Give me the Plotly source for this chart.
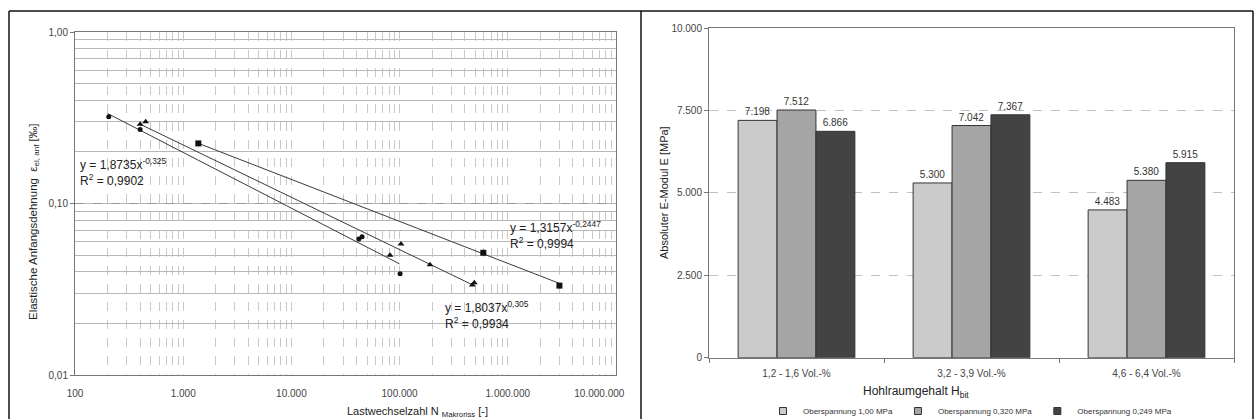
import plotly.graph_objects as go

# ---------------- data: left chart ----------------
s1_n = [205, 400, 42000, 45000, 101000]
s1_eps = [0.32, 0.27, 0.062, 0.064, 0.039]
s2_n = [400, 450, 81500, 103000, 191000, 470000, 490000]
s2_eps = [0.29, 0.30, 0.050, 0.058, 0.044, 0.0335, 0.0345]
s3_n = [1380, 594000, 3000000]
s3_eps = [0.224, 0.0516, 0.0332]

# power-law trend lines y = a * x^b (coefficients as printed in the chart)
trend_a = [1.8735, 1.8037, 1.3157]
trend_b = [-0.325, -0.305, -0.2447]
trend_n_range = [[200, 100000], [400, 474000], [1380, 3000000]]
trend_eq = ["y = 1,8735x<sup>-0,325</sup><br>R<sup>2</sup> = 0,9902",
            "y = 1,8037x<sup>0,305</sup><br>R<sup>2</sup> = 0,9934",
            "y = 1,3157x<sup>-0,2447</sup><br>R<sup>2</sup> = 0,9994"]

x_tickvals = [100, 1000, 10000, 100000, 1000000, 10000000]
x_ticktext = ["100", "1.000", "10.000", "100.000", "1.000.000",
              "10.000.000" + "\u00a0" * 12]
y_tickvals = [0.01, 0.1, 1]
y_ticktext = ["0,01", "0,10", "1,00"]

# ---------------- data: right chart ----------------
categories = ["1,2 - 1,6 Vol.-%", "3,2 - 3,9 Vol.-%", "4,6 - 6,4 Vol.-%"]
series_names = ["Oberspannung 1,00 MPa", "Oberspannung 0,320 MPa", "Oberspannung 0,249 MPa"]
e_1000 = [7198, 5300, 4483]
e_0320 = [7512, 7042, 5380]
e_0249 = [6866, 7367, 5915]
bar_colors = ["#cbcbcb", "#a5a5a5", "#434343"]
bar_tickvals = [0, 2500, 5000, 7500, 10000]
bar_ticktext = ["0", "2.500", "5.000", "7.500", "10.000"]

W, H = 1254, 419
FONT = "Liberation Sans, Arial, sans-serif"

def px(x):
    return x / W

def py(y):
    return 1 - y / H

fig = go.Figure()

# left chart traces
line_col = "#3a3a3a"
for a, b, rng in zip(trend_a, trend_b, trend_n_range):
    fig.add_trace(go.Scatter(
        x=rng, y=[a * n ** b for n in rng], mode="lines",
        line=dict(color=line_col, width=1), showlegend=False,
        xaxis="x", yaxis="y", hoverinfo="skip"))

fig.add_trace(go.Scatter(x=s1_n, y=s1_eps, mode="markers",
                         marker=dict(symbol="circle", size=5, color="#111"),
                         showlegend=False, xaxis="x", yaxis="y"))
fig.add_trace(go.Scatter(x=s2_n, y=s2_eps, mode="markers",
                         marker=dict(symbol="triangle-up", size=6, color="#111"),
                         showlegend=False, xaxis="x", yaxis="y"))
fig.add_trace(go.Scatter(x=s3_n, y=s3_eps, mode="markers",
                         marker=dict(symbol="square", size=6, color="#111"),
                         showlegend=False, xaxis="x", yaxis="y"))

# right chart traces
for name, vals, col in zip(series_names, [e_1000, e_0320, e_0249], bar_colors):
    fig.add_trace(go.Bar(
        x=categories, y=vals, name=name, xaxis="x2", yaxis="y2",
        marker=dict(color=col, line=dict(color="#333", width=1)),
        text=vals, texttemplate="%{y:,.0f}", textposition="outside",
        textfont=dict(size=10, color="#333", family=FONT),
        cliponaxis=False, showlegend=False))
    # legend entry with a small square symbol
    fig.add_trace(go.Scatter(
        x=[None], y=[None], mode="markers", name=name, xaxis="x2", yaxis="y2",
        marker=dict(symbol="square", size=7, color=col, line=dict(color="#333", width=1)),
        showlegend=True))

fig.update_layout(
    width=W, height=H,
    margin=dict(l=0, r=0, t=0, b=0, autoexpand=False),
    paper_bgcolor="white", plot_bgcolor="white",
    separators=",.",
    font=dict(family=FONT, size=10, color="#333"),
    barmode="group", bargap=0.333, bargroupgap=0,
    xaxis=dict(
        type="log", range=[2, 7], domain=[px(75), px(616)],
        tickvals=x_tickvals, ticktext=x_ticktext,
        tickfont=dict(size=10, color="#444"), ticklabelstandoff=9,
        showgrid=True, gridcolor="#c8c8c8", griddash="dash", gridwidth=1,
        minor=dict(dtick="D1", showgrid=True, gridcolor="#c8c8c8", griddash="dash",
                   gridwidth=1, ticks=""),
        showline=True, linecolor="#777", mirror=True, linewidth=1,
        ticks="", zeroline=False, anchor="y", automargin=False),
    yaxis=dict(
        type="log", range=[-2, 0], domain=[py(375), py(32)],
        tickvals=y_tickvals, ticktext=y_ticktext,
        tickfont=dict(size=10, color="#444"),
        showgrid=True, gridcolor="#999", griddash="dash", gridwidth=1,
        minor=dict(dtick="D1", showgrid=True, gridcolor="#b8b8b8", griddash="solid",
                   gridwidth=1, ticks=""),
        showline=True, linecolor="#777", mirror=True, linewidth=1,
        ticks="outside", ticklen=4, tickcolor="#777",
        zeroline=False, anchor="x", automargin=False),
    xaxis2=dict(
        domain=[px(709), px(1234)], anchor="y2",
        tickfont=dict(size=10, color="#444"), ticklabelstandoff=6,
        showline=True, linecolor="#777", mirror=True, linewidth=1,
        ticks="outside", tickson="boundaries", ticklen=4, tickcolor="#777",
        showgrid=False, automargin=False),
    yaxis2=dict(
        domain=[py(357.7), py(28)], anchor="x2", range=[0, 10000],
        tickvals=bar_tickvals, ticktext=bar_ticktext,
        tickfont=dict(size=10, color="#444"),
        showgrid=True, gridcolor="#c0c0c0", griddash="dash", gridwidth=1,
        showline=True, linecolor="#777", mirror=True, linewidth=1,
        ticks="outside", ticklen=4, tickcolor="#777", zeroline=False, automargin=False),
    legend=dict(orientation="h", x=px(970), xanchor="center", y=py(411), yanchor="middle",
                font=dict(size=8, color="#333"), itemwidth=30,
                traceorder="normal", bgcolor="rgba(0,0,0,0)"),
)

# annotations: trend equations
eq_pos = [(78, 172), (443, 315), (508, 235)]
for txt, (xp, yp) in zip(trend_eq, eq_pos):
    fig.add_annotation(x=px(xp), y=py(yp), xref="paper", yref="paper", text=txt,
                       showarrow=False, xanchor="left", yanchor="middle", align="left",
                       font=dict(size=12, color="#222"))

# axis titles
fig.add_annotation(x=px(25), y=py(222), xref="paper", yref="paper",
                   text="Elastische Anfangsdehnung  ε<sub>el, anf</sub> [‰]",
                   textangle=-90, showarrow=False, font=dict(size=11.5, color="#222"))
fig.add_annotation(x=px(345), y=py(421), xref="paper", yref="paper",
                   text="Lastwechselzahl N <sub>Makroriss</sub> [-]",
                   showarrow=False, font=dict(size=11, color="#222"))
fig.add_annotation(x=px(664), y=py(192), xref="paper", yref="paper",
                   text="Absoluter E-Modul E [MPa]",
                   textangle=-90, showarrow=False, font=dict(size=11, color="#222"))
fig.add_annotation(x=px(971), y=py(402), xref="paper", yref="paper",
                   text="Hohlraumgehalt H<sub>bit</sub>",
                   showarrow=False, font=dict(size=12, color="#222"))

# outer frame and divider
frame = dict(type="line", xref="paper", yref="paper", line=dict(color="#111", width=1.5))
fig.add_shape(x0=px(9), x1=px(1253), y0=py(11), y1=py(11), **frame)
fig.add_shape(x0=px(9), x1=px(9), y0=py(11), y1=0, **frame)
fig.add_shape(x0=px(641), x1=px(641), y0=py(11), y1=0, **frame)
fig.add_shape(x0=px(1253), x1=px(1253), y0=py(11), y1=0, **frame)

fig.write_html("out.html")
